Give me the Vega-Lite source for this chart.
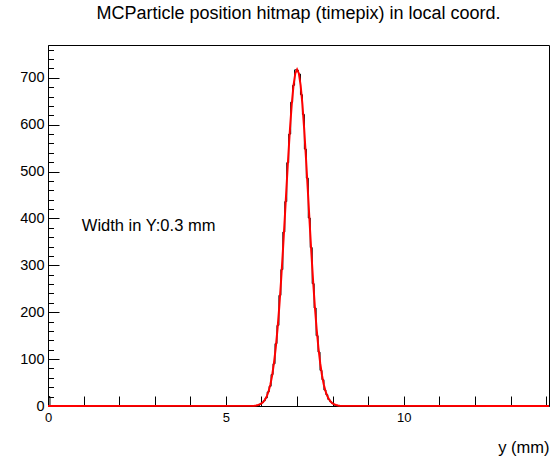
{
  "$schema": "https://vega.github.io/schema/vega-lite/v6.json",
  "width": 501,
  "height": 361,
  "autosize": {"type": "none"},
  "padding": {"left": 48, "top": 45, "right": 2, "bottom": 50},
  "background": "white",
  "config": {
    "font": "Liberation Sans",
    "view": {"stroke": "black", "strokeWidth": 1}
  },
  "title": {
    "text": "MCParticle position hitmap (timepix) in local coord.",
    "fontSize": 18,
    "fontWeight": "normal",
    "font": "Liberation Sans",
    "color": "black",
    "anchor": "middle",
    "offset": 19
  },
  "datasets": {
    "hist": [
      {"x": 0, "n": 20}, {"x": 0.055, "n": 0},
      {"x": 5.94, "n": 4}, {"x": 5.995, "n": 7}, {"x": 6.05, "n": 11}, {"x": 6.105, "n": 17},
      {"x": 6.16, "n": 30}, {"x": 6.215, "n": 42}, {"x": 6.27, "n": 67}, {"x": 6.325, "n": 90},
      {"x": 6.38, "n": 133}, {"x": 6.435, "n": 172}, {"x": 6.49, "n": 236}, {"x": 6.545, "n": 291},
      {"x": 6.6, "n": 371}, {"x": 6.655, "n": 436}, {"x": 6.71, "n": 519}, {"x": 6.765, "n": 580},
      {"x": 6.82, "n": 648}, {"x": 6.875, "n": 684}, {"x": 6.93, "n": 717}, {"x": 6.985, "n": 716},
      {"x": 7.04, "n": 708}, {"x": 7.095, "n": 664}, {"x": 7.15, "n": 622}, {"x": 7.205, "n": 548},
      {"x": 7.26, "n": 486}, {"x": 7.315, "n": 401}, {"x": 7.37, "n": 338}, {"x": 7.425, "n": 261},
      {"x": 7.48, "n": 209}, {"x": 7.535, "n": 150}, {"x": 7.59, "n": 115}, {"x": 7.645, "n": 76},
      {"x": 7.7, "n": 56}, {"x": 7.755, "n": 34}, {"x": 7.81, "n": 24}, {"x": 7.865, "n": 14},
      {"x": 7.92, "n": 9}, {"x": 7.975, "n": 5}, {"x": 8.03, "n": 2}, {"x": 8.085, "n": 1},
      {"x": 8.14, "n": 0}, {"x": 14.08, "n": 0}
    ],
    "fit": [
      {"x": 0, "f": 0}, {"x": 5.8, "f": 0.5}, {"x": 5.85, "f": 1.0}, {"x": 5.9, "f": 2.0},
      {"x": 5.95, "f": 3.3}, {"x": 6.0, "f": 5.4}, {"x": 6.05, "f": 8.8}, {"x": 6.1, "f": 13.8},
      {"x": 6.15, "f": 21.1}, {"x": 6.2, "f": 31.5}, {"x": 6.25, "f": 46.0}, {"x": 6.3, "f": 65.6},
      {"x": 6.35, "f": 91.4}, {"x": 6.4, "f": 123.8}, {"x": 6.45, "f": 163.9}, {"x": 6.5, "f": 211.8},
      {"x": 6.55, "f": 267.1}, {"x": 6.6, "f": 328.7}, {"x": 6.65, "f": 394.8}, {"x": 6.7, "f": 462.9},
      {"x": 6.75, "f": 529.1}, {"x": 6.8, "f": 590.7}, {"x": 6.85, "f": 643.4}, {"x": 6.9, "f": 683.8},
      {"x": 6.95, "f": 709.3}, {"x": 7.0, "f": 718}, {"x": 7.05, "f": 709.3}, {"x": 7.1, "f": 683.8},
      {"x": 7.15, "f": 643.4}, {"x": 7.2, "f": 590.7}, {"x": 7.25, "f": 529.1}, {"x": 7.3, "f": 462.9},
      {"x": 7.35, "f": 394.8}, {"x": 7.4, "f": 328.7}, {"x": 7.45, "f": 267.1}, {"x": 7.5, "f": 211.8},
      {"x": 7.55, "f": 163.9}, {"x": 7.6, "f": 123.8}, {"x": 7.65, "f": 91.4}, {"x": 7.7, "f": 65.6},
      {"x": 7.75, "f": 46.0}, {"x": 7.8, "f": 31.5}, {"x": 7.85, "f": 21.1}, {"x": 7.9, "f": 13.8},
      {"x": 7.95, "f": 8.8}, {"x": 8.0, "f": 5.4}, {"x": 8.05, "f": 3.3}, {"x": 8.1, "f": 2.0},
      {"x": 8.15, "f": 1.0}, {"x": 8.2, "f": 0.5}, {"x": 14.08, "f": 0}
    ],
    "label": [{"x": 0.95, "y": 384, "t": "Width in Y:0.3 mm"}]
  },
  "layer": [
    {
      "data": {"name": "hist"},
      "mark": {"type": "line", "interpolate": "step-after", "color": "black", "strokeWidth": 1},
      "encoding": {
        "x": {
          "field": "x", "type": "quantitative",
          "scale": {"domain": [0, 14.08], "nice": false, "zero": false},
          "axis": {
            "title": "y (mm)",
            "titleAnchor": "end",
            "titleFontSize": 16.5,
            "titleFontWeight": "normal",
            "titleColor": "black",
            "titlePadding": 15,
            "values": [0,1,2,3,4,5,6,7,8,9,10,11,12,13,14],
            "tickCount": 200,
            "format": "d",
            "labelExpr": "datum.value % 5 === 0 ? datum.label : ''",
            "labelOverlap": false,
            "labelFlush": false,
            "labelBound": false,
            "labelFontSize": 13,
            "labelColor": "black",
            "labelPadding": 15,
            "tickSize": -10,
            "tickColor": "black",
            "domainColor": "black",
            "grid": false
          }
        },
        "y": {
          "field": "n", "type": "quantitative",
          "scale": {"domain": [0, 770], "nice": false},
          "axis": {
            "title": null,
            "values": [0,20,40,60,80,100,120,140,160,180,200,220,240,260,280,300,320,340,360,380,400,420,440,460,480,500,520,540,560,580,600,620,640,660,680,700,720,740,760],
            "tickCount": 200,
            "format": "d",
            "labelExpr": "datum.value % 100 === 0 ? datum.label : ''",
            "labelOverlap": false,
            "labelFlush": false,
            "labelBound": false,
            "labelFontSize": 14.5,
            "labelColor": "black",
            "labelPadding": 15,
            "tickSize": {"condition": {"test": "datum.value % 100 === 0", "value": -11}, "value": -5.5},
            "tickColor": "black",
            "domainColor": "black",
            "grid": false
          }
        }
      }
    },
    {
      "data": {"name": "fit"},
      "mark": {"type": "line", "interpolate": "linear", "color": "#ff0000", "strokeWidth": 2},
      "encoding": {
        "x": {"field": "x", "type": "quantitative"},
        "y": {"field": "f", "type": "quantitative"}
      }
    },
    {
      "data": {"name": "label"},
      "mark": {"type": "text", "align": "left", "baseline": "middle", "fontSize": 16.5, "color": "black", "font": "Liberation Sans"},
      "encoding": {
        "x": {"field": "x", "type": "quantitative"},
        "y": {"field": "y", "type": "quantitative"},
        "text": {"field": "t"}
      }
    }
  ]
}
